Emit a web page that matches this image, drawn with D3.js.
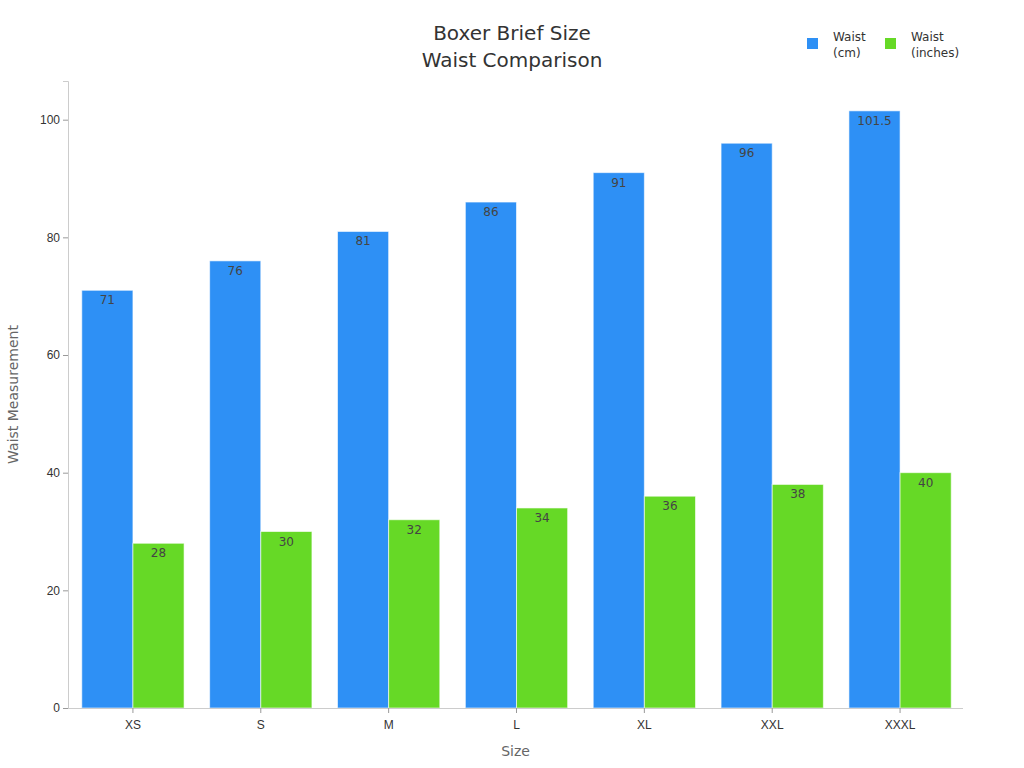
<!DOCTYPE html>
<html>
<head>
<meta charset="utf-8">
<script src="https://cdn.jsdelivr.net/npm/d3@7"></script>
<style>
  body { margin: 0; background: #fff; font-family: "DejaVu Sans", sans-serif; }
</style>
</head>
<body>
<div id="chart"></div>
<script>
// Chart data
const sizes = ["XS", "S", "M", "L", "XL", "XXL", "XXXL"];
const waistCm = [71, 76, 81, 86, 91, 96, 101.5];
const waistInches = [28, 30, 32, 34, 36, 38, 40];
const seriesNames = ["Waist\n(cm)", "Waist\n(inches)"];
const yTicks = [0, 20, 40, 60, 80, 100];

drawChart();

function drawChart() {
    const W = 1024, H = 768;
    const margin = { top: 81, right: 61, bottom: 60, left: 68 };
    const width = W - margin.left - margin.right;
    const height = H - margin.top - margin.bottom;
    const colors = ["#2e90f5", "#66d926"];

    const svg = d3.select("#chart").append("svg")
        .attr("width", W)
        .attr("height", H)
        .style("font-family", "'DejaVu Sans', sans-serif");

    const g = svg.append("g")
        .attr("transform", `translate(${margin.left},${margin.top})`);

    // Scales
    const x = d3.scaleBand()
        .domain(sizes)
        .range([1, width + 1])
        .paddingInner(0.2)
        .paddingOuter(0.1);

    const x1 = d3.scaleBand()
        .domain([0, 1])
        .range([0, x.bandwidth()]);

    const y = d3.scaleLinear()
        .domain([0, d3.max(waistCm) * 1.05])
        .range([height, 0]);

    // Bars, one group per size
    const rows = sizes.map((s, i) => ({ size: s, values: [waistCm[i], waistInches[i]] }));

    const groups = g.selectAll(".group")
        .data(rows)
        .enter().append("g")
        .attr("transform", d => `translate(${x(d.size)},0)`);

    groups.selectAll("rect")
        .data(d => d.values.map((v, k) => ({ k: k, v: v })))
        .enter().append("rect")
        .attr("x", d => x1(d.k))
        .attr("y", d => y(d.v))
        .attr("width", x1.bandwidth())
        .attr("height", d => height - y(d.v))
        .attr("fill", d => colors[d.k])
        .attr("stroke", "#ffffff")
        .attr("stroke-opacity", 0.6)
        .attr("stroke-width", 1);

    // Value labels just inside the top of each bar
    groups.selectAll("text.val")
        .data(d => d.values.map((v, k) => ({ k: k, v: v })))
        .enter().append("text")
        .attr("class", "val")
        .attr("x", d => x1(d.k) + x1.bandwidth() / 2)
        .attr("y", d => y(d.v) + 14)
        .attr("text-anchor", "middle")
        .style("font-size", "12px")
        .style("fill", "#444")
        .text(d => d.v);

    // X axis
    const xAxis = g.append("g")
        .attr("transform", `translate(0,${height})`)
        .call(d3.axisBottom(x).tickSizeOuter(0).tickSize(5));
    xAxis.select(".domain").attr("d", `M0,0.5H${width}`).attr("stroke", "#ccc");
    xAxis.selectAll(".tick line").attr("stroke", "#999");
    xAxis.selectAll("text")
        .style("font-size", "12px")
        .style("fill", "#333")
        .attr("dy", "1.1em");

    // Y axis
    const yAxis = g.append("g")
        .call(d3.axisLeft(y).tickValues(yTicks).tickSizeOuter(0).tickSize(5));
    yAxis.select(".domain").attr("stroke", "#ccc");
    yAxis.selectAll(".tick line").attr("stroke", "#999");
    yAxis.selectAll("text")
        .style("font-size", "12px")
        .style("fill", "#333");

    // Axis titles
    g.append("text")
        .attr("x", width / 2)
        .attr("y", height + 48)
        .attr("text-anchor", "middle")
        .style("font-size", "14px")
        .style("fill", "#666")
        .text("Size");

    g.append("text")
        .attr("transform", "rotate(-90)")
        .attr("x", -height / 2)
        .attr("y", -50)
        .attr("text-anchor", "middle")
        .style("font-size", "14px")
        .style("fill", "#666")
        .text("Waist Measurement");

    // Title
    const title = svg.append("text")
        .attr("x", 512)
        .attr("y", 40)
        .attr("text-anchor", "middle")
        .style("font-size", "20px")
        .style("fill", "#333");
    title.append("tspan").attr("x", 512).text("Boxer Brief Size");
    title.append("tspan").attr("x", 512).attr("dy", "1.35em").text("Waist Comparison");

    // Legend
    const legendX = [807, 885];
    seriesNames.forEach((name, k) => {
        const lg = svg.append("g").attr("transform", `translate(${legendX[k]},38)`);
        lg.append("rect")
            .attr("width", 11)
            .attr("height", 11)
            .attr("fill", colors[k]);
        const t = lg.append("text")
            .attr("x", 26)
            .attr("y", 3)
            .style("font-size", "12px")
            .style("fill", "#333");
        name.split("\n").forEach((line, j) => {
            t.append("tspan")
                .attr("x", 26)
                .attr("dy", j === 0 ? 0 : "1.3em")
                .text(line);
        });
    });
}
</script>
</body>
</html>
